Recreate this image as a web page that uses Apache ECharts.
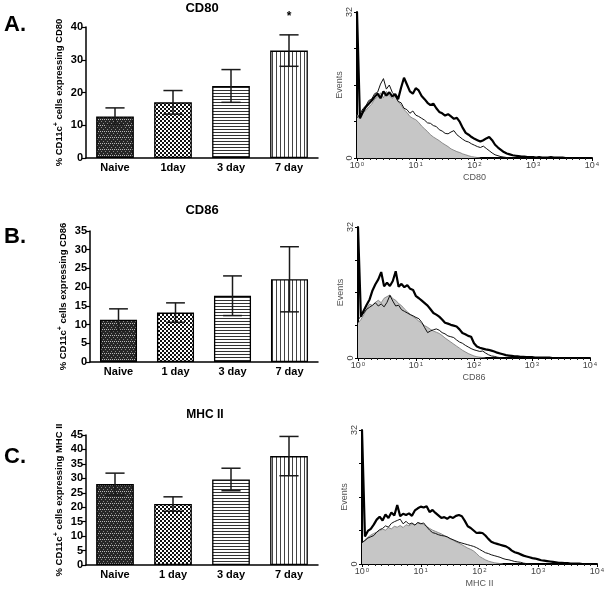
<!DOCTYPE html>
<html>
<head>
<meta charset="utf-8">
<script src="https://cdn.jsdelivr.net/npm/echarts@6/dist/echarts.min.js"></script>
<style>
html, body { margin: 0; padding: 0; background: #fff; }
#main { width: 608px; height: 589px; }
</style>
</head>
<body>
<div id="main"></div>
<script>
// bar charts: % CD11c+ cells expressing each marker (mean +/- sem)
var groupsA = ['Naive', '1day', '3 day', '7 day'];
var groupsBC = ['Naive', '1 day', '3 day', '7 day'];

var cd80Mean = [12.7, 17.0, 22.0, 32.8];
var cd80Sem = [2.6, 3.6, 5.0, 4.8];
var cd80Sig = ['', '', '', '*'];

var cd86Mean = [11.3, 13.2, 17.7, 22.1];
var cd86Sem = [2.9, 2.6, 5.3, 8.7];

var mhcMean = [28.0, 21.1, 29.6, 37.7];
var mhcSem = [3.8, 2.5, 3.9, 6.8];

// histograms: events per channel, channels every 0.05 decade from 10^0
var channelStep = 0.05;
var decadeLabels = ['0', '1', '2', '3', '4'];

var cd80Ctrl = [9.5, 8.6, 9.9, 10.4, 11.2, 11.8, 12.9, 13.4, 14.3, 13.2, 14.6, 13.6, 13.1, 13.6, 12.4, 11.6, 10.6, 10.0, 9.1, 8.7,
  8.4, 7.8, 7.0, 6.4, 5.8, 5.1, 4.6, 4.2, 3.8, 3.3, 2.9, 2.5, 2.0, 1.7, 1.4, 1.2, 0.9, 0.7, 0.5, 0.3, 0.2, 0.1, 0];
var cd80Thin = [8.8, 9.6, 10.8, 11.4, 12.6, 12.9, 14.1, 14.4, 16.2, 17.4, 15.1, 16.0, 14.4, 13.6, 12.4, 12.1, 10.9, 10.6, 9.8, 10.3,
  9.4, 9.1, 8.7, 8.3, 7.7, 7.6, 7.1, 6.9, 6.2, 5.9, 5.4, 5.3, 5.7, 6.0, 5.1, 4.6, 4.1, 3.7, 3.5, 3.1,
  2.8, 2.5, 2.3, 2.6, 2.1, 1.6, 1.1, 0.7, 0.5, 0.3, 0.2, 0.1, 0];
var cd80Thick = [32, 8.7, 10.1, 11.2, 11.9, 12.6, 13.4, 14.1, 13.1, 14.6, 13.7, 14.4, 13.5, 14.0, 12.9, 15.4, 17.6, 16.1, 14.6, 14.1,
  15.3, 14.8, 13.6, 12.9, 12.1, 11.6, 11.9, 10.9, 10.1, 9.8, 9.3, 9.6, 9.1, 8.6, 8.8, 7.9, 6.6, 5.5, 5.1, 4.6,
  4.2, 3.9, 3.6, 3.9, 4.3, 4.6, 3.9, 2.9, 2.3, 1.8, 1.3, 1.0, 0.8, 0.6, 0.5, 0.4, 0.3, 0.3, 0.2, 0.2,
  0.2, 0.1, 0.2, 0.1, 0.1, 0.1, 0.2, 0.1, 0.1, 0.1, 0.1, 0];

var cd86Ctrl = [8.5, 9.4, 10.6, 12.1, 13.2, 12.8, 13.6, 14.1, 13.5, 14.6, 15.0, 15.4, 14.5, 14.1, 13.3, 12.8, 12.0, 11.3, 10.7, 10.1,
  9.6, 9.0, 8.5, 7.9, 7.5, 7.0, 6.6, 6.3, 6.0, 5.5, 4.9, 4.4, 3.9, 3.4, 2.9, 2.4, 1.9, 1.5, 1.1, 0.8,
  0.5, 0.3, 0.2, 0.1, 0];
var cd86Thin = [9.3, 10.2, 11.0, 11.9, 12.4, 12.9, 13.5, 12.7, 13.2, 12.5, 13.6, 15.3, 13.9, 12.7, 12.9, 11.8, 11.4, 11.0, 10.6, 10.3,
  9.9, 9.6, 8.7, 7.4, 6.2, 6.6, 6.9, 7.1, 6.8, 6.2, 5.9, 5.4, 5.2, 5.0, 4.4, 3.9, 3.6, 3.1, 2.7, 2.3,
  2.0, 1.8, 1.6, 1.7, 1.2, 0.8, 0.5, 0.4, 0.2, 0.1, 0];
var cd86Thick = [32, 10.1, 11.6, 13.0, 14.3, 16.5, 18.0, 19.2, 21.0, 17.5, 18.4, 17.6, 18.8, 21.2, 17.4, 18.1, 17.3, 17.8, 16.9, 16.6,
  15.1, 14.6, 14.0, 13.4, 12.8, 11.9, 11.0, 10.6, 10.1, 9.4, 8.6, 8.4, 8.1, 7.9, 7.7, 7.0, 6.1, 5.8, 5.4, 5.2,
  3.6, 2.8, 2.5, 2.3, 2.1, 2.0, 1.8, 1.6, 1.3, 1.1, 0.9, 0.7, 0.6, 0.5, 0.4, 0.4, 0.3, 0.3, 0.2, 0.2,
  0.2, 0.1, 0.1, 0.1, 0.1, 0.1, 0.1, 0];

var mhcCtrl = [5.0, 5.8, 6.4, 6.9, 7.3, 7.6, 8.0, 8.3, 8.1, 8.7, 8.4, 9.0, 8.8, 9.2, 8.7, 9.4, 9.1, 9.6, 9.3, 9.9,
  9.7, 9.4, 9.0, 8.5, 8.1, 7.8, 7.5, 7.2, 6.8, 6.4, 6.0, 5.7, 5.3, 5.0, 4.6, 4.2, 3.8, 3.5, 3.1, 2.5,
  1.8, 1.4, 1.0, 0.7, 0.5, 0.3, 0.2, 0.1, 0];
var mhcThin = [5.1, 5.6, 6.2, 6.5, 6.8, 7.6, 8.2, 8.5, 9.1, 8.8, 9.7, 10.1, 10.4, 10.7, 9.6, 10.2, 9.5, 9.8, 9.3, 9.9,
  9.6, 9.8, 8.9, 8.1, 7.5, 7.3, 7.0, 6.8, 6.7, 6.5, 6.1, 5.8, 5.5, 5.2, 5.0, 4.8, 4.6, 4.4, 4.2, 3.9,
  3.5, 3.1, 2.7, 2.5, 2.2, 2.0, 1.8, 1.6, 1.3, 1.1, 1.0, 0.8, 0.6, 0.5, 0.4, 0.2, 0.1, 0];
var mhcThick = [32, 6.6, 7.9, 8.4, 9.4, 10.6, 11.3, 10.4, 11.8, 11.0, 12.3, 11.6, 14.1, 11.4, 12.0, 11.7, 12.1, 11.5, 12.8, 13.3,
  13.7, 13.5, 13.8, 12.4, 12.9, 12.2, 11.6, 11.0, 11.2, 10.8, 11.3, 11.0, 11.5, 11.7, 11.4, 10.3, 9.0, 8.6, 8.0, 7.4,
  7.5, 7.4, 6.8, 6.0, 5.3, 5.0, 4.8, 4.6, 4.4, 4.2, 3.8, 3.2, 2.8, 2.6, 2.3, 2.0, 1.8, 1.6, 1.4, 1.3,
  1.1, 0.9, 0.8, 0.7, 0.6, 0.5, 0.4, 0.3, 0.3, 0.2, 0.2, 0.1, 0.1, 0.1, 0.1, 0];

var FONT = '"Liberation Sans", Arial, sans-serif';

// fill patterns for the bars
function makePattern(w, h, draw) {
    var c = document.createElement('canvas');
    c.width = w; c.height = h;
    var ctx = c.getContext('2d');
    ctx.fillStyle = '#fff';
    ctx.fillRect(0, 0, w, h);
    draw(ctx);
    return { image: c, repeat: 'repeat' };
}
var patterns = [
    makePattern(4, 6, function (ctx) {   // naive: dark dotted weave
        ctx.fillStyle = '#262626'; ctx.fillRect(0, 0, 4, 6);
        ctx.fillStyle = '#8a8a8a';
        ctx.fillRect(1, 1, 1, 1); ctx.fillRect(3, 3, 1, 1);
        ctx.fillStyle = '#b8b8b8';
        ctx.fillRect(0, 5, 1, 1); ctx.fillRect(2, 5, 1, 1);
    }),
    makePattern(4, 4, function (ctx) {   // checkerboard
        ctx.fillStyle = '#111';
        ctx.fillRect(0, 0, 2, 2); ctx.fillRect(2, 2, 2, 2);
    }),
    makePattern(1, 3, function (ctx) {   // horizontal lines
        ctx.fillStyle = '#333'; ctx.fillRect(0, 0, 1, 1);
    }),
    makePattern(4, 1, function (ctx) {   // vertical lines
        ctx.fillStyle = '#444'; ctx.fillRect(0, 0, 1, 1);
    })
];

var barGrids = [
    { left: 86, top: 27, width: 232, height: 131 },
    { left: 90, top: 231, width: 228, height: 131 },
    { left: 86, top: 435, width: 232, height: 130 }
];
var histGrids = [
    { left: 357, top: 12, width: 235, height: 146 },
    { left: 358, top: 227, width: 232, height: 131 },
    { left: 362, top: 430, width: 235, height: 134 }
];

var grid = [], xAxis = [], yAxis = [], series = [];

function addBarPanel(i, cats, mean, sem, sig, yMax, yStep, marker) {
    grid.push(barGrids[i]);
    xAxis.push({
        type: 'category', gridIndex: i, data: cats,
        axisLine: { lineStyle: { color: '#000', width: 1.5 } },
        axisTick: { alignWithLabel: true, length: 3, lineStyle: { color: '#000', width: 1.2 } },
        axisLabel: { color: '#000', fontFamily: FONT, fontWeight: 'bold', fontSize: 11, margin: 4 }
    });
    yAxis.push({
        type: 'value', gridIndex: i, min: 0, max: yMax, interval: yStep,
        splitLine: { show: false },
        axisLine: { show: true, lineStyle: { color: '#000', width: 1.5 } },
        axisTick: { show: true, length: 4, lineStyle: { color: '#000', width: 1.2 } },
        axisLabel: { color: '#000', fontFamily: FONT, fontWeight: 'bold', fontSize: 11, margin: 3 },
        name: '% CD11c{sup|+} cells expressing ' + marker,
        nameLocation: 'middle', nameGap: 21, nameRotate: 90,
        nameTextStyle: {
            color: '#000', fontFamily: FONT, fontWeight: 'bold', fontSize: 9.5,
            rich: { sup: { fontSize: 7, fontWeight: 'bold', fontFamily: FONT, color: '#000', verticalAlign: 'top', padding: [0, 0, 5, 0] } }
        }
    });
    series.push({
        type: 'bar', xAxisIndex: i, yAxisIndex: i, barWidth: '65%',
        data: mean.map(function (v, k) {
            return { value: v, itemStyle: { color: patterns[k] } };
        }),
        itemStyle: { borderColor: '#000', borderWidth: 1.3 },
        animation: false
    });
    series.push({
        type: 'custom', xAxisIndex: i, yAxisIndex: i, z: 5,
        data: mean.map(function (v, k) { return [k, v - sem[k], v + sem[k]]; }),
        renderItem: function (params, api) {
            var k = api.value(0);
            var lo = api.coord([k, api.value(1)]);
            var hi = api.coord([k, api.value(2)]);
            var half = api.size([1, 0])[0] * 0.165;
            var st = { stroke: '#1a1a1a', lineWidth: 1.5 };
            var kids = [
                { type: 'line', shape: { x1: hi[0], y1: hi[1], x2: lo[0], y2: lo[1] }, style: st },
                { type: 'line', shape: { x1: hi[0] - half, y1: hi[1], x2: hi[0] + half, y2: hi[1] }, style: st },
                { type: 'line', shape: { x1: lo[0] - half, y1: lo[1], x2: lo[0] + half, y2: lo[1] }, style: st }
            ];
            if (sig && sig[k]) {
                kids.push({
                    type: 'text', x: hi[0], y: hi[1] - 18,
                    style: { text: sig[k], fill: '#000', font: 'bold 12px ' + FONT, textAlign: 'center', textVerticalAlign: 'middle' }
                });
            }
            return { type: 'group', children: kids };
        },
        animation: false
    });
}

function toPoints(arr) {
    return arr.map(function (v, k) { return [k * channelStep, v]; });
}

function addHistPanel(i, marker, ctrl, thin, thick) {
    var gi = i + 3;
    grid.push(histGrids[i]);
    xAxis.push({
        type: 'value', gridIndex: gi, min: 0, max: 4, interval: 1,
        splitLine: { show: false },
        axisLine: { lineStyle: { color: '#000', width: 2 } },
        axisTick: { length: 3, lineStyle: { color: '#000' } },
        minorTick: { show: true, splitNumber: 9, length: 2, lineStyle: { color: '#222' } },
        axisLabel: {
            margin: 3, color: '#444',
            formatter: function (v) { return '{b|10}{s|' + decadeLabels[Math.round(v)] + '}'; },
            rich: {
                b: { fontFamily: FONT, fontSize: 9, color: '#444' },
                s: { fontFamily: FONT, fontSize: 6, color: '#444', verticalAlign: 'top', padding: [0, 0, 4, 1] }
            }
        },
        name: marker, nameLocation: 'middle', nameGap: 15,
        nameTextStyle: { color: '#555', fontFamily: FONT, fontSize: 9 }
    });
    yAxis.push({
        type: 'value', gridIndex: gi, min: 0, max: 32, interval: 8,
        splitLine: { show: false },
        axisLine: { show: true, lineStyle: { color: '#000', width: 2 } },
        axisTick: { show: true, length: 3, lineStyle: { color: '#000' } },
        axisLabel: {
            rotate: 90, margin: 3, color: '#444', fontFamily: FONT, fontSize: 9,
            formatter: function (v) { return (v === 0 || v === 32) ? String(v) : ''; }
        },
        name: 'Events', nameLocation: 'middle', nameGap: 10, nameRotate: 90,
        nameTextStyle: { color: '#555', fontFamily: FONT, fontSize: 9 }
    });
    series.push({
        type: 'line', xAxisIndex: gi, yAxisIndex: gi, data: toPoints(ctrl),
        showSymbol: false, smooth: false,
        lineStyle: { color: '#777', width: 0.8 },
        areaStyle: { color: '#c6c6c6', opacity: 1 },
        animation: false
    });
    series.push({
        type: 'line', xAxisIndex: gi, yAxisIndex: gi, data: toPoints(thin),
        showSymbol: false, lineStyle: { color: '#111', width: 1 },
        animation: false
    });
    series.push({
        type: 'line', xAxisIndex: gi, yAxisIndex: gi, data: toPoints(thick),
        showSymbol: false, lineStyle: { color: '#000', width: 2.2 },
        animation: false
    });
}

addBarPanel(0, groupsA, cd80Mean, cd80Sem, cd80Sig, 40, 10, 'CD80');
addBarPanel(1, groupsBC, cd86Mean, cd86Sem, null, 35, 5, 'CD86');
addBarPanel(2, groupsBC, mhcMean, mhcSem, null, 45, 5, 'MHC II');
addHistPanel(0, 'CD80', cd80Ctrl, cd80Thin, cd80Thick);
addHistPanel(1, 'CD86', cd86Ctrl, cd86Thin, cd86Thick);
addHistPanel(2, 'MHC II', mhcCtrl, mhcThin, mhcThick);

function txt(x, y, s, font) {
    return { type: 'text', x: x, y: y, style: { text: s, font: font, fill: '#000', textAlign: 'center', textVerticalAlign: 'middle' } };
}

var myChart = echarts.init(document.getElementById('main'), null, { renderer: 'canvas' });
myChart.setOption({
    backgroundColor: '#fff',
    animation: false,
    grid: grid,
    xAxis: xAxis,
    yAxis: yAxis,
    series: series,
    graphic: [
        txt(15, 25, 'A.', 'bold 22px ' + FONT),
        txt(15, 237, 'B.', 'bold 22px ' + FONT),
        txt(15, 457, 'C.', 'bold 22px ' + FONT),
        txt(202, 8, 'CD80', 'bold 13px ' + FONT),
        txt(202, 210, 'CD86', 'bold 13px ' + FONT),
        txt(205, 415, 'MHC II', 'bold 12px ' + FONT)
    ]
});
</script>
</body>
</html>
